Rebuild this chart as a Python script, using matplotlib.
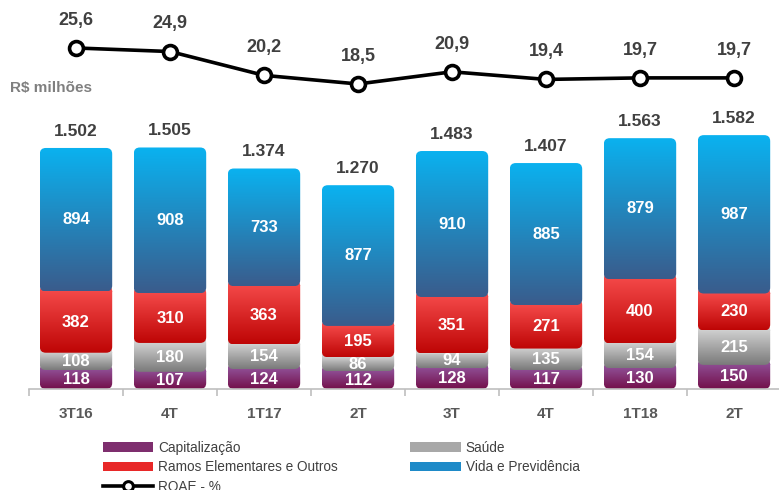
import numpy as np
import matplotlib
matplotlib.use("Agg")
import matplotlib.pyplot as plt
from matplotlib.colors import LinearSegmentedColormap
from matplotlib.patches import FancyBboxPatch, Patch
from matplotlib.lines import Line2D

plt.rcParams["font.family"] = ["Liberation Sans", "DejaVu Sans"]

# data
categories = ["3T16", "4T", "1T17", "2T", "3T", "4T", "1T18", "2T"]
capitalizacao = [118, 107, 124, 112, 128, 117, 130, 150]
saude = [108, 180, 154, 86, 94, 135, 154, 215]
ramos = [382, 310, 363, 195, 351, 271, 400, 230]
vida = [894, 908, 733, 877, 910, 885, 879, 987]
totals = [1502, 1505, 1374, 1270, 1483, 1407, 1563, 1582]
roae = [25.6, 24.9, 20.2, 18.5, 20.9, 19.4, 19.7, 19.7]

# (name, values, top colour, bottom colour)
series = [
    ("Capitalização", capitalizacao, "#8E4C92", "#730F4A"),
    ("Saúde", saude, "#CFCFCF", "#7A7A7A"),
    ("Ramos Elementares e Outros", ramos, "#F34848", "#BE0505"),
    ("Vida e Previdência", vida, "#0AB2F0", "#3A5C8C"),
]

W, H = 779, 490
fig = plt.figure(figsize=(W / 100, H / 100), dpi=100)

ax = fig.add_axes([29 / W, 101 / H, 752 / W, 269.6 / H])
ax.set_xlim(-0.5, 7.5)
ax.set_ylim(0, 1680)

x = np.arange(len(categories))
width = 0.77
# rounding: ~6 px corners, convert to data units in each direction
px_per_x = 752 / 8.0
px_per_y = 269.6 / 1680
rx = 6 / px_per_x
ry = 6 / px_per_y
aspect = ry / rx

bottom = np.zeros(len(categories))
n_series = len(series)
for k, (name, vals, ctop, cbot) in enumerate(series):
    cmap = LinearSegmentedColormap.from_list(name, [cbot, ctop])
    grad = np.linspace(0, 1, 128).reshape(-1, 1)
    # lower segments run up behind the next one so the rounded corners
    # of the upper segment show the colour underneath
    extra = ry if k < n_series - 1 else 0
    for i, v in enumerate(vals):
        x0 = x[i] - width / 2
        y0 = bottom[i]
        h = v + extra
        box = FancyBboxPatch((x0, y0), width, h,
                             boxstyle=f"round,pad=0,rounding_size={rx}",
                             mutation_aspect=aspect,
                             facecolor="none", edgecolor="none")
        ax.add_patch(box)
        im = ax.imshow(grad, cmap=cmap, origin="lower", aspect="auto",
                       extent=[x0, x0 + width, y0, y0 + v],
                       zorder=2 + k * 0.1)
        im.set_clip_path(box)
        if extra:
            # solid top colour for the hidden overlap strip
            im2 = ax.imshow(np.ones((2, 1)), cmap=cmap, vmin=0, vmax=1,
                            origin="lower", aspect="auto",
                            extent=[x0, x0 + width, y0 + v - 1, y0 + h],
                            zorder=2 + k * 0.1)
            im2.set_clip_path(box)
        ax.text(x[i], y0 + v / 2, str(v), ha="center", va="center",
                color="white", fontsize=12, fontweight="bold", zorder=3)
    bottom += np.array(vals)

for i, t in enumerate(totals):
    ax.annotate(f"{t:,}".replace(",", "."), (x[i], bottom[i]),
                xytext=(0, 12), textcoords="offset points",
                ha="center", va="center", fontsize=12.5,
                fontweight="bold", color="#404040")

ax.set_xlim(-0.5, 7.5)
ax.set_ylim(0, 1680)
for s in ["top", "right", "left"]:
    ax.spines[s].set_visible(False)
ax.spines["bottom"].set_color("#BFBFBF")
ax.spines["bottom"].set_linewidth(1.2)
ax.set_yticks([])
ax.set_xticks(x)
ax.set_xticklabels(categories, fontsize=11, fontweight="bold", color="#595959")
ax.tick_params(axis="x", which="major", length=0, pad=13)
ax.set_xticks(np.arange(-0.5, 8, 1), minor=True)
ax.tick_params(axis="x", which="minor", length=5, color="#BFBFBF", width=1.2)

# ROAE line in its own axes above the bars
lax = fig.add_axes([29 / W, 390 / H, 752 / W, 90 / H])
lax.set_xlim(-0.5, 7.5)
lax.set_ylim(15.34, 33.09)
lax.plot(x, roae, color="black", lw=2.6, marker="o", ms=10,
         mfc="white", mec="black", mew=2.6, zorder=3, clip_on=False)
for i, r in enumerate(roae):
    lax.annotate(f"{r:.1f}".replace(".", ","), (x[i], r),
                 xytext=(0, 20), textcoords="offset points",
                 ha="center", va="center", fontsize=13,
                 fontweight="bold", color="#404040")
lax.axis("off")

fig.text(10 / W, 1 - 88 / H, "R$ milhões", fontsize=11, fontweight="bold",
         color="#7F7F7F", ha="left", va="center")

handles = [
    Patch(facecolor="#7E2E6E", edgecolor="none", label="Capitalização"),
    Patch(facecolor="#E82828", edgecolor="none", label="Ramos Elementares e Outros"),
    Line2D([], [], color="black", lw=2.6, marker="o", ms=7, mfc="white",
           mec="black", mew=2.2, label="ROAE - %"),
    Patch(facecolor="#A8A8A8", edgecolor="none", label="Saúde"),
    Patch(facecolor="#1E8AC8", edgecolor="none", label="Vida e Previdência"),
]
fig.legend(handles=handles, ncol=2, loc="upper left",
           bbox_to_anchor=(103 / W, 1 - 441 / H), frameon=False,
           prop={"size": 9.8}, labelcolor="#404040", handlelength=3.7,
           handleheight=0.7, handletextpad=0.37, columnspacing=5.3,
           labelspacing=0.4, borderpad=0, borderaxespad=0)

fig.savefig("out.png", dpi=100)
